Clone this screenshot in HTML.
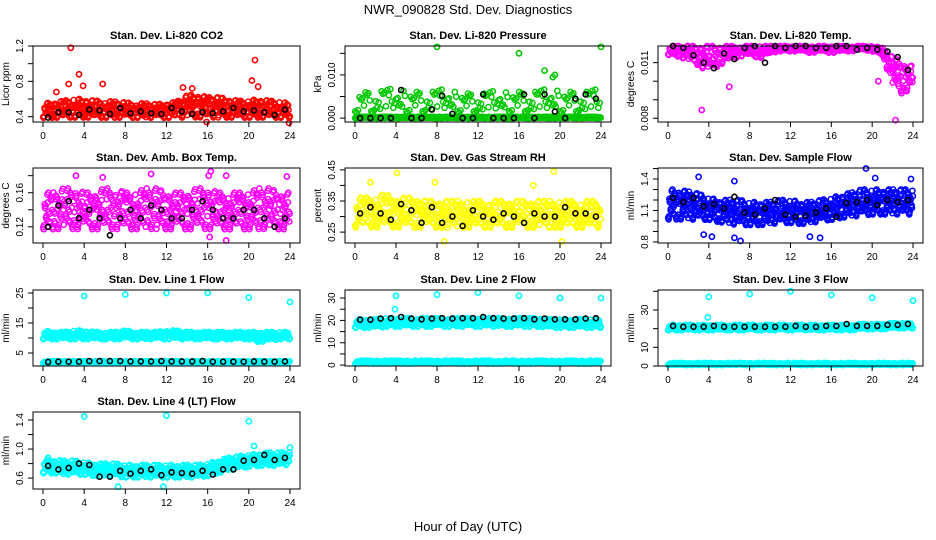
<!DOCTYPE html>
<html><head><meta charset="utf-8"><style>
html,body{margin:0;padding:0;background:#fff;}
svg{display:block;font-family:"Liberation Sans",Arial,sans-serif;}
</style></head><body>
<svg id="chart" width="936" height="540" viewBox="0 0 936 540" xmlns="http://www.w3.org/2000/svg">
<text x="468" y="14" text-anchor="middle" font-size="13">NWR_090828  Std. Dev. Diagnostics</text>
<text x="468" y="531" text-anchor="middle" font-size="13">Hour of Day (UTC)</text>
</svg>
<script>
// ---- data (approximate) ----
const hours = [0,1,2,3,4,5,6,7,8,9,10,11,12,13,14,15,16,17,18,19,20,21,22,23,24];
const xTicks = [0,4,8,12,16,20,24];

const co2Lo = [0.38,0.38,0.38,0.38,0.38,0.38,0.38,0.38,0.38,0.38,0.38,0.38,0.38,0.38,0.38,0.38,0.38,0.38,0.38,0.38,0.38,0.38,0.38,0.38,0.38];
const co2Hi = [0.55,0.56,0.58,0.6,0.6,0.58,0.58,0.57,0.56,0.55,0.55,0.54,0.55,0.57,0.64,0.65,0.62,0.62,0.6,0.58,0.58,0.6,0.58,0.57,0.55];
const co2Black = [0.39,0.45,0.45,0.42,0.48,0.47,0.43,0.5,0.44,0.46,0.44,0.43,0.5,0.46,0.43,0.45,0.44,0.46,0.5,0.46,0.47,0.45,0.42,0.48];
const co2Out = [[2.7,1.18],[3.5,0.88],[3.9,0.75],[2.5,0.77],[5.8,0.77],[20.6,1.04],[20.3,0.81],[20.9,0.74],[13.6,0.73],[14.5,0.72],[1.3,0.68],[23.9,0.33],[15.9,0.34]];

const presLo = [0.001,0.001,0.001,0.001,0.001,0.001,0.001,0.001,0.001,0.001,0.001,0.001,0.001,0.001,0.001,0.001,0.001,0.001,0.001,0.001,0.001,0.001,0.001,0.001,0.001];
const presHi = [0.0065,0.0065,0.0068,0.0068,0.0066,0.0066,0.0066,0.0066,0.0066,0.0066,0.0062,0.0062,0.0062,0.0062,0.0062,0.0062,0.0066,0.0066,0.0066,0.0066,0.0066,0.0066,0.0066,0.0066,0.0066];
const presFloorLo = [0,0,0,0,0,0,0,0,0,0,0,0,0,0,0,0,0,0,0,0,0,0,0,0,0];
const presFloorHi = [0.0003,0.0003,0.0003,0.0003,0.0003,0.0003,0.0003,0.0003,0.0003,0.0003,0.0003,0.0003,0.0003,0.0003,0.0003,0.0003,0.0003,0.0003,0.0003,0.0003,0.0003,0.0003,0.0003,0.0003,0.0003];
const presBlack = [0,0,0,0,0.0065,0,0,0.002,0.0052,0.001,0,0,0.0055,0,0,0,0.0055,0,0.0055,0.0015,0,0.0045,0.0055,0.0045];
const presOut = [[8,0.0165],[16,0.015],[24,0.0165],[18.5,0.011],[19.3,0.0095],[19.5,0.01]];

const tempLo = [0.0114,0.0113,0.0111,0.0108,0.0104,0.0108,0.0111,0.0113,0.0114,0.0112,0.0115,0.0116,0.0116,0.0116,0.0115,0.0116,0.0115,0.0116,0.0116,0.0117,0.0116,0.0114,0.0097,0.0092,0.0097];
const tempHi = [0.0119,0.0119,0.0119,0.0119,0.0119,0.0119,0.0119,0.0119,0.0119,0.0119,0.0119,0.0119,0.0119,0.0119,0.0119,0.0119,0.0119,0.0119,0.0119,0.0119,0.0119,0.0118,0.0113,0.0110,0.0108];
const tempBlack = [0.0119,0.0118,0.0114,0.0110,0.0107,0.0115,0.0112,0.0118,0.0119,0.0110,0.0119,0.0118,0.0119,0.0119,0.0118,0.0118,0.0119,0.0119,0.0117,0.0118,0.0117,0.0116,0.0113,0.0106];
const tempOut = [[3.3,0.00845],[6,0.0097],[22.3,0.0079],[20.6,0.0100]];

const ambLo = [0.115,0.115,0.115,0.115,0.115,0.115,0.115,0.115,0.115,0.115,0.115,0.115,0.115,0.115,0.115,0.115,0.115,0.115,0.115,0.115,0.115,0.115,0.115,0.115,0.115];
const ambHi = [0.16,0.16,0.165,0.165,0.16,0.16,0.165,0.165,0.16,0.16,0.165,0.165,0.16,0.16,0.16,0.165,0.165,0.16,0.16,0.16,0.16,0.165,0.165,0.16,0.16];
const ambBlack = [0.12,0.145,0.15,0.13,0.14,0.13,0.11,0.13,0.14,0.13,0.145,0.14,0.13,0.13,0.14,0.15,0.14,0.13,0.13,0.14,0.14,0.13,0.12,0.13];
const ambOut = [[3.2,0.18],[5.8,0.178],[10.5,0.182],[16.3,0.185],[16.1,0.18],[17.8,0.18],[23.7,0.179],[17.8,0.104],[16.2,0.108]];

const rhLo = [0.26,0.26,0.26,0.26,0.26,0.26,0.26,0.26,0.26,0.26,0.26,0.26,0.26,0.26,0.26,0.26,0.26,0.26,0.26,0.26,0.26,0.26,0.26,0.26,0.26];
const rhHi = [0.36,0.36,0.37,0.37,0.36,0.36,0.36,0.35,0.35,0.35,0.35,0.35,0.35,0.35,0.35,0.35,0.35,0.35,0.35,0.35,0.35,0.35,0.35,0.35,0.35];
const rhBlack = [0.31,0.33,0.31,0.29,0.34,0.32,0.28,0.33,0.28,0.3,0.27,0.32,0.3,0.29,0.31,0.3,0.28,0.31,0.3,0.3,0.33,0.31,0.31,0.3];
const rhOut = [[4.1,0.44],[1.5,0.41],[7.8,0.41],[19.4,0.445],[17.4,0.4],[8.7,0.22],[20.2,0.22]];

const sfLo = [1.0,1.0,1.0,1.0,1.0,0.98,0.96,0.95,0.95,0.95,0.96,0.97,0.97,0.96,0.97,0.99,1.0,1.02,1.03,1.04,1.05,1.05,1.05,1.05,1.05];
const sfHi = [1.3,1.3,1.28,1.26,1.22,1.2,1.2,1.2,1.18,1.18,1.18,1.2,1.2,1.18,1.18,1.2,1.22,1.25,1.27,1.3,1.3,1.3,1.3,1.3,1.3];
const sfBlack = [1.22,1.18,1.22,1.14,1.16,1.12,1.23,1.08,1.06,1.12,1.2,1.06,1.04,1.05,1.08,1.12,1.04,1.17,1.18,1.2,1.15,1.2,1.18,1.2];
const sfOut = [[3,1.42],[6.5,1.38],[19.4,1.5],[20.3,1.41],[23.8,1.4],[3.5,0.87],[4.3,0.85],[6.5,0.84],[7.1,0.81],[13.9,0.85],[14.9,0.84]];

const l1Lo = [9.5,9.5,9.5,9.5,9.5,9.5,9.5,9.5,9.5,9.5,9.5,9.5,9.5,9.5,9.5,9.5,9.5,9.5,9.5,9.5,9.5,8.5,9,9.5,9.5];
const l1Hi = [12.5,12,12,12.5,12.5,12,12,12,12.5,12,12,12,12.5,12.5,12,12,12,12,12,12,12,12,12,12,12];
const l1FloorLo = [1.6,1.6,1.6,1.6,1.6,1.6,1.6,1.6,1.6,1.6,1.6,1.6,1.6,1.6,1.6,1.6,1.6,1.6,1.6,1.6,1.6,1.6,1.6,1.6,1.6];
const l1FloorHi = [2.3,2.3,2.3,2.3,2.3,2.3,2.3,2.3,2.3,2.3,2.3,2.3,2.3,2.3,2.3,2.3,2.3,2.3,2.3,2.3,2.3,2.3,2.3,2.3,2.3];
const l1Black = [2,2.1,2.1,2.1,2.3,2.3,2.3,2.3,2.2,2.2,2.2,2.3,2.2,2.2,2.2,2.3,2.1,2.1,2.1,2.1,2.2,2.1,2.1,2.2];
const l1Out = [[4,24],[8,24.5],[12,25],[16,25],[20,23.5],[24,22]];

const l2Lo = [16.5,16.5,16.5,17,17,17,17,17,17,17,17,17,17,17,17,17,17,17,17,16.5,16.5,16.5,16.5,16.5,16.5];
const l2Hi = [20.5,20.5,20.5,21,21,21,21,21,21,21,21,21,21,21,21,21,21,21,21,20.5,20.5,20.5,20.5,20.5,20.5];
const l2FloorLo = [0.6,0.6,0.6,0.6,0.6,0.6,0.6,0.6,0.6,0.6,0.6,0.6,0.6,0.6,0.6,0.6,0.6,0.6,0.6,0.6,0.6,0.6,0.6,0.6,0.6];
const l2FloorHi = [2,2,2,2,2,2,2,2,2,2,2,2,2,2,2,2,2,2,2,2,2,2,2,2,2];
const l2Black = [20.3,20.3,20.8,21,21.5,20.8,20.5,20.8,21,20.8,21,21,21.5,21,20.8,20.8,21,20.5,20.8,20.5,20.5,20.5,20.8,21];
const l2Out = [[4,31],[8,31.5],[12,32.5],[16,31],[20,30],[24,30],[3.9,25],[3.9,18.5]];

const l3Lo = [19,19,19,19,19,19,19,19,19,19,19,19,19,19,19,19,19,19,19,19.5,19.5,19.5,20,20,20];
const l3Hi = [22,22,22,22,22,22,22,22,22,22,22,22,22,22,22,22,22,22,22,22.5,22.5,22.5,23,23,23];
const l3FloorLo = [0.5,0.5,0.5,0.5,0.5,0.5,0.5,0.5,0.5,0.5,0.5,0.5,0.5,0.5,0.5,0.5,0.5,0.5,0.5,0.5,0.5,0.5,0.5,0.5,0.5];
const l3FloorHi = [1.6,1.6,1.6,1.6,1.6,1.6,1.6,1.6,1.6,1.6,1.6,1.6,1.6,1.6,1.6,1.6,1.6,1.6,1.6,1.6,1.6,1.6,1.6,1.6,1.6];
const l3Black = [21.5,21,21,21,21.5,21,21,21,21,21,21,21,21.5,21,21,21.5,21.5,22.5,21.5,21.5,21.5,22,22,22.5];
const l3Out = [[4,37],[8,38.5],[12,40],[16,38],[20,36.5],[24,35],[3.9,26]];

const l4Lo = [0.66,0.66,0.64,0.64,0.64,0.62,0.62,0.62,0.6,0.6,0.6,0.6,0.6,0.6,0.6,0.6,0.62,0.66,0.7,0.72,0.75,0.76,0.76,0.76,0.78];
const l4Hi = [0.85,0.85,0.84,0.84,0.82,0.8,0.8,0.8,0.78,0.78,0.78,0.78,0.78,0.78,0.78,0.78,0.8,0.84,0.88,0.9,0.92,0.94,0.95,0.95,0.96];
const l4Black = [0.77,0.72,0.74,0.8,0.78,0.62,0.62,0.7,0.66,0.7,0.72,0.64,0.68,0.67,0.66,0.7,0.65,0.72,0.72,0.84,0.85,0.92,0.85,0.88];
const l4Out = [[4,1.45],[12,1.46],[20,1.38],[20.5,1.04],[24,1.02],[0.5,0.88],[11.7,0.48],[7.3,0.48]];

// ---- layout ----
const NS = "http://www.w3.org/2000/svg";
const svg = document.getElementById('chart');
const cols = [[33,300],[345,611],[658,923]];
const rows = [[46,122],[168,243],[290,366],[412,489]];

const panels = [
 {name:'co2',title:'Stan. Dev. Li-820 CO2',ylab:'Licor ppm',c:0,r:0,col:'#ff0000',dom:[0.34,1.2],ticks:[0.4,0.6,0.8,1.0,1.2],labs:['0.4','','0.8','','1.2'],bands:[[co2Lo,co2Hi,24]],black:co2Black,out:co2Out},
 {name:'pressure',title:'Stan. Dev. Li-820 Pressure',ylab:'kPa',c:1,r:0,col:'#00c800',dom:[-0.0009,0.0167],ticks:[0,0.005,0.01,0.015],labs:['0.000','','0.010',''],bands:[[presFloorLo,presFloorHi,20],[presLo,presHi,7]],black:presBlack,out:presOut},
 {name:'li820-temp',title:'Stan. Dev. Li-820 Temp.',ylab:'degrees C',c:2,r:0,col:'#ff00ff',dom:[0.0078,0.0119],ticks:[0.008,0.009,0.010,0.011,0.012],labs:['0.008','','','0.011',''],bands:[[tempLo,tempHi,22]],black:tempBlack,out:tempOut},
 {name:'amb-box-temp',title:'Stan. Dev. Amb. Box Temp.',ylab:'degrees C',c:0,r:1,col:'#ff00ff',dom:[0.101,0.189],ticks:[0.12,0.14,0.16,0.18],labs:['0.12','','0.16',''],bands:[[ambLo,ambHi,22]],black:ambBlack,out:ambOut},
 {name:'gas-rh',title:'Stan. Dev. Gas Stream RH',ylab:'percent',c:1,r:1,col:'#ffff00',dom:[0.215,0.456],ticks:[0.25,0.3,0.35,0.4,0.45],labs:['0.25','','0.35','','0.45'],bands:[[rhLo,rhHi,20]],black:rhBlack,out:rhOut},
 {name:'sample-flow',title:'Stan. Dev. Sample Flow',ylab:'ml/min',c:2,r:1,col:'#0000ff',dom:[0.79,1.505],ticks:[0.8,0.9,1.0,1.1,1.2,1.3,1.4,1.5],labs:['0.8','','','1.1','','','1.4',''],bands:[[sfLo,sfHi,26]],black:sfBlack,out:sfOut},
 {name:'line1-flow',title:'Stan. Dev. Line 1 Flow',ylab:'ml/min',c:0,r:2,col:'#00ffff',dom:[0.67,26],ticks:[5,10,15,20,25],labs:['5','','15','','25'],bands:[[l1FloorLo,l1FloorHi,18],[l1Lo,l1Hi,24]],black:l1Black,out:l1Out},
 {name:'line2-flow',title:'Stan. Dev. Line 2 Flow',ylab:'ml/min',c:1,r:2,col:'#00ffff',dom:[-0.4,33.6],ticks:[0,5,10,15,20,25,30],labs:['0','','10','','20','','30'],bands:[[l2FloorLo,l2FloorHi,18],[l2Lo,l2Hi,24]],black:l2Black,out:l2Out},
 {name:'line3-flow',title:'Stan. Dev. Line 3 Flow',ylab:'ml/min',c:2,r:2,col:'#00ffff',dom:[0,40.7],ticks:[0,10,20,30,40],labs:['0','10','','30',''],bands:[[l3FloorLo,l3FloorHi,18],[l3Lo,l3Hi,24]],black:l3Black,out:l3Out},
 {name:'line4-flow',title:'Stan. Dev. Line 4 (LT) Flow',ylab:'ml/min',c:0,r:3,col:'#00ffff',dom:[0.45,1.51],ticks:[0.6,0.8,1.0,1.2,1.4],labs:['0.6','','1.0','','1.4'],bands:[[l4Lo,l4Hi,26]],black:l4Black,out:l4Out}
];

function mk(tag, attrs, parent){
  const e = document.createElementNS(NS, tag);
  for (const k in attrs) e.setAttribute(k, attrs[k]);
  (parent||svg).appendChild(e);
  return e;
}
function interp(arr, x){
  const i = Math.min(23, Math.floor(x));
  const f = x - i;
  return arr[i]*(1-f) + arr[i+1]*f;
}
const jit = [0.1,0.7,0.35,0.95,0.5,0.2,0.85,0.05,0.6,0.4,0.75,0.25,0.9,0.55,0.15,0.65,0.3,1.0,0.45,0.8];

panels.forEach(p => {
  const [x0,x1] = cols[p.c], [y0,y1] = rows[p.r];
  const xs = h => x0 + 10 + (h/24)*(x1 - x0 - 20);
  const ys = v => y1 - (v - p.dom[0])/(p.dom[1]-p.dom[0])*(y1-y0);
  const g = mk('g', {});
  
  
  const t = mk('text', {x:(x0+x1)/2, y:y0-7, 'text-anchor':'middle', 'font-size':'11', 'font-weight':'bold'}, g);
  t.textContent = p.title;
  
  
  const clip = mk('g', {}, g);
  p.bands.forEach(b => {
    const [lo, hi, n] = b;
    let k = 0;
    for (let h = 0; h < 24; h++) {
      for (let j = 0; j < n; j++) {
        const x = h + j/n + 0.02;
        const fr = jit[(k*7 + h*3) % jit.length];
        k++;
        const v = interp(lo, x) + (interp(hi, x) - interp(lo, x))*fr;
        const c = mk('circle', {cx:xs(x).toFixed(1), cy:ys(v).toFixed(1), r:2.6, fill:'none', stroke:p.col, 'stroke-width':1.5}, clip);
        
        
      }
    }
  });
  p.out.forEach(o => {
    const c = mk('circle', {cx:xs(o[0]).toFixed(1), cy:ys(o[1]).toFixed(1), r:2.6, fill:'none', stroke:p.col, 'stroke-width':1.6}, clip);
    
    
  });
  p.black.forEach((v, i) => {
    const c = mk('circle', {cx:xs(i+0.5).toFixed(1), cy:ys(v).toFixed(1), r:2.5, fill:'none', stroke:'#000', 'stroke-width':1.6}, clip);
    
    
  });
  const box = mk('rect', {x:x0, y:y0, width:x1-x0, height:y1-y0, fill:'none', stroke:'#000', 'stroke-width':1}, g);
  
  
  xTicks.forEach(h => {
    const X = xs(h);
    mk('line', {x1:X, x2:X, y1:y1, y2:y1+5, stroke:'#000'}, g);
    const tl = mk('text', {x:X, y:y1+17, 'text-anchor':'middle', 'font-size':'10'}, g);
    tl.textContent = h;
    
    
  });
  p.ticks.forEach((v, i) => {
    const Y = ys(v);
    if (Y < y0-1 || Y > y1+1) return;
    mk('line', {x1:x0-5, x2:x0, y1:Y, y2:Y, stroke:'#000'}, g);
    if (p.labs[i]) {
      const tl = mk('text', {x:x0-10, y:Y, 'text-anchor':'middle', 'font-size':'10', transform:`rotate(-90 ${x0-10} ${Y})`}, g);
      tl.textContent = p.labs[i];
      
      
    }
  });
  const yl = mk('text', {x:x0-24, y:(y0+y1)/2, 'text-anchor':'middle', 'font-size':'10', transform:`rotate(-90 ${x0-24} ${(y0+y1)/2})`}, g);
  yl.textContent = p.ylab;
  
  
});
</script>
</body></html>
